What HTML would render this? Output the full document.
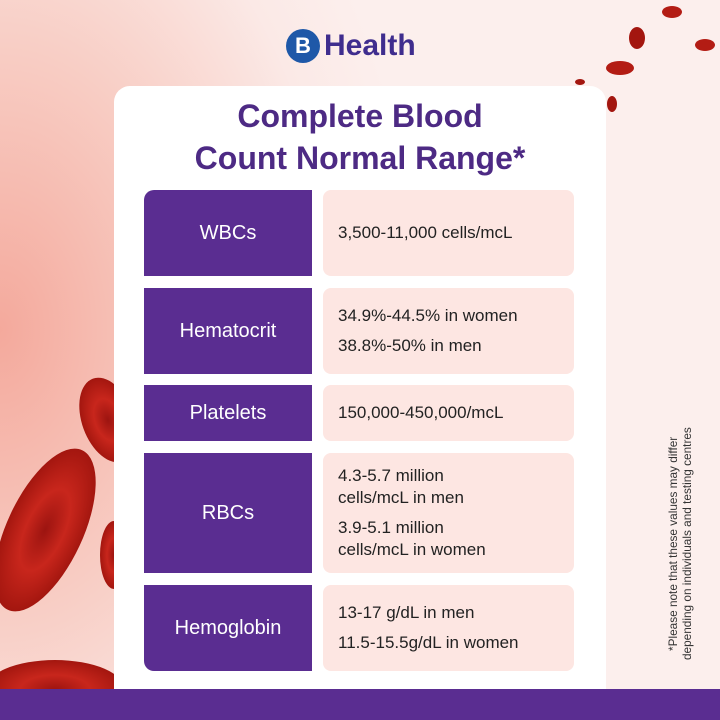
<!DOCTYPE html>
<html><head><meta charset="utf-8"><style>
*{margin:0;padding:0;box-sizing:border-box}
html,body{width:720px;height:720px;overflow:hidden}
body{position:relative;font-family:"Liberation Sans",sans-serif;
background:radial-gradient(ellipse 420px 620px at 0px 330px,#f4a99c 0%,#f8cdc4 45%,#fbe9e6 80%,#fcefed 100%);}
.card{position:absolute;left:114px;top:86px;width:492px;height:603px;background:#fff;border-radius:16px 16px 0 0}
.bar{position:absolute;left:0;top:689px;width:720px;height:31px;background:#5a2d91}
.title{position:absolute;left:114px;width:492px;top:95px;text-align:center;color:#4d2a84;font-weight:bold;font-size:32px;line-height:42px}
.l{position:absolute;left:144px;width:168px;background:#5a2d91;color:#fff;font-size:20px;display:flex;align-items:center;justify-content:center}
.r{position:absolute;left:323px;width:251px;background:#fde6e2;color:#222;font-size:17px;border-radius:8px;padding-left:15px;display:flex;flex-direction:column;justify-content:center}
.r p{margin:4px 0;line-height:22px}
.note{position:absolute;left:666px;top:418px;height:252px;writing-mode:vertical-rl;transform:rotate(180deg);white-space:nowrap;font-size:11.8px;line-height:14px;color:#333;text-align:center}
.logo{position:absolute;left:286px;top:29px;display:flex;align-items:center}
.circ{width:34px;height:34px;border-radius:50%;background:#1e58a8;color:#fff;font-weight:bold;font-size:22px;display:flex;align-items:center;justify-content:center}
.lt{font-weight:bold;font-size:30px;color:#3f2d8e;margin-left:4px}
</style></head><body>
<svg width="720" height="720" viewBox="0 0 720 720" style="position:absolute;left:0;top:0;overflow:hidden">
<defs><radialGradient id="g" cx="50%" cy="50%" r="50%"><stop offset="0" stop-color="#9c1410"/><stop offset="0.5" stop-color="#c8261c"/><stop offset="1" stop-color="#a3160f"/></radialGradient></defs>
<ellipse cx="108" cy="420" rx="26" ry="44" fill="url(#g)" transform="rotate(-20 108 420)"/>
<ellipse cx="45" cy="530" rx="38" ry="88" fill="url(#g)" transform="rotate(25 45 530)"/>
<ellipse cx="114" cy="555" rx="14" ry="34" fill="url(#g)"/>
<ellipse cx="55" cy="690" rx="70" ry="30" fill="url(#g)"/>
<ellipse cx="637" cy="38" rx="8" ry="11" fill="#a3160f"/>
<ellipse cx="620" cy="68" rx="14" ry="7" fill="#b31c14"/>
<ellipse cx="705" cy="45" rx="10" ry="6" fill="#b31c14"/>
<ellipse cx="672" cy="12" rx="10" ry="6" fill="#b31c14"/>
<ellipse cx="612" cy="104" rx="5" ry="8" fill="#a3160f"/>
<ellipse cx="580" cy="82" rx="5" ry="3" fill="#a3160f"/>
</svg>
<div class="logo"><div class="circ">B</div><div class="lt">Health</div></div>
<div class="card"></div>
<div class="title">Complete Blood<br>Count Normal Range*</div>
<div class="l" style="top:190px;height:86px;border-top-left-radius:10px">WBCs</div>
<div class="r" style="top:190px;height:86px"><p>3,500-11,000 cells/mcL</p></div>
<div class="l" style="top:288px;height:86px">Hematocrit</div>
<div class="r" style="top:288px;height:86px"><p>34.9%-44.5% in women</p><p>38.8%-50% in men</p></div>
<div class="l" style="top:385px;height:56px">Platelets</div>
<div class="r" style="top:385px;height:56px"><p>150,000-450,000/mcL</p></div>
<div class="l" style="top:453px;height:120px">RBCs</div>
<div class="r" style="top:453px;height:120px"><p>4.3-5.7 million<br>cells/mcL in men</p><p>3.9-5.1 million<br>cells/mcL in women</p></div>
<div class="l" style="top:585px;height:86px;border-bottom-left-radius:10px">Hemoglobin</div>
<div class="r" style="top:585px;height:86px"><p>13-17 g/dL in men</p><p>11.5-15.5g/dL in women</p></div>
<div class="note">*Please note that these values may differ<br>depending on individuals and testing centres</div>
<div class="bar"></div>
</body></html>
